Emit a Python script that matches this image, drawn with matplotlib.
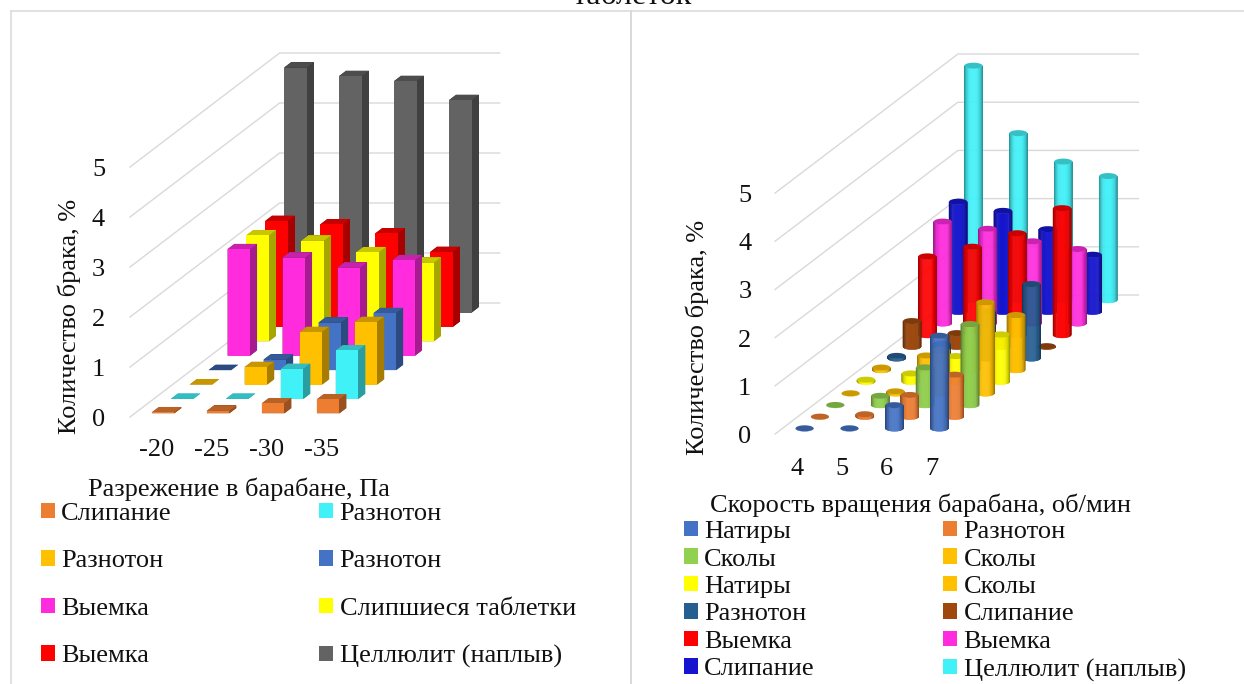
import numpy as np
import matplotlib
matplotlib.use("Agg")
import matplotlib.pyplot as plt
from matplotlib.colors import to_rgb
from matplotlib.lines import Line2D
from matplotlib.patches import Patch
from mpl_toolkits.mplot3d.art3d import Poly3DCollection

plt.rcParams['font.family'] = ['Liberation Serif', 'DejaVu Serif']

W, H = 1244, 684
GRID = "#d9d9d9"
TEXT = "#111111"
FONT = 19

# left chart: drum vacuum
vac_ticks = ["-20", "-25", "-30", "-35"]
vac_names = ["Слипание", "Разнотон", "Разнотон", "Разнотон",
             "Выемка", "Слипшиеся таблетки", "Выемка", "Целлюлит (наплыв)"]
vac_colors = ["#ed7d31", "#41f1f8", "#ffc000", "#4472c4",
              "#ff2bdd", "#ffff00", "#ff0000", "#636363"]
vac_stick = [0.02, 0.05, 0.20, 0.28]
vac_tone1 = [0.0, 0.0, 0.60, 0.97]
vac_tone2 = [0.0, 0.35, 1.05, 1.25]
vac_tone3 = [0.0, 0.21, 0.95, 1.14]
vac_dent1 = [2.13, 1.96, 1.76, 1.91]
vac_glued = [2.12, 2.01, 1.78, 1.57]
vac_dent2 = [2.12, 2.05, 1.87, 1.50]
vac_cell = [4.90, 4.73, 4.63, 4.25]
vac_values = [vac_stick, vac_tone1, vac_tone2, vac_tone3,
              vac_dent1, vac_glued, vac_dent2, vac_cell]

# right chart: drum rotation speed
rpm_ticks = ["4", "5", "6", "7"]
rpm_names = ["Натиры", "Разнотон", "Сколы", "Сколы", "Натиры", "Сколы",
             "Разнотон", "Слипание", "Выемка", "Выемка", "Слипание",
             "Целлюлит (наплыв)"]
rpm_colors = ["#4472c4", "#ed7d31", "#92d050", "#ffc000", "#ffff00", "#ffc000",
              "#255e91", "#9e480e", "#ff0000", "#ff2bdd", "#1515cf", "#41f1f8"]
rpm_scuff1 = [0.0, 0.0, 0.48, 1.92]
rpm_tone1 = [0.0, 0.05, 0.45, 0.87]
rpm_chip1 = [0.0, 0.19, 0.78, 1.68]
rpm_chip2 = [0.0, 0.04, 0.90, 1.89]
rpm_scuff2 = [0.04, 0.17, 0.53, 0.98]
rpm_chip3 = [0.05, 0.30, 0.70, 1.14]
rpm_tone2 = [0.05, 0.30, 0.97, 1.54]
rpm_stick1 = [0.53, 0.28, 0.20, 0.01]
rpm_dent1 = [1.63, 1.83, 2.11, 2.63]
rpm_dent2 = [2.11, 1.96, 1.70, 1.54]
rpm_stick2 = [2.28, 2.09, 1.71, 1.18]
rpm_cell = [4.86, 3.46, 2.87, 2.57]
rpm_values = [rpm_scuff1, rpm_tone1, rpm_chip1, rpm_chip2, rpm_scuff2, rpm_chip3,
              rpm_tone2, rpm_stick1, rpm_dent1, rpm_dent2, rpm_stick2, rpm_cell]


def oblique_axes(fig, x0, y0, col_px, ser_dx, ser_dy, unit_px):
    # 3D axes with a fixed cabinet projection, origin and steps given in pixels
    ax = fig.add_axes([0, 0, 1, 1], projection='3d', computed_zorder=False)
    ax.set_axis_off()
    ax.set_proj_type('ortho')
    ax.patch.set_visible(False)

    def get_proj():
        px = np.array([[col_px, ser_dx, 0, x0],
                       [0, ser_dy, unit_px, H - y0],
                       [-0.5, 1, -0.1, 0],
                       [0, 0, 0, 1.0]])
        inv = ax.transData.inverted().get_matrix()
        to_view = np.array([[inv[0, 0], 0, 0, inv[0, 2]],
                            [0, inv[1, 1], 0, inv[1, 2]],
                            [0, 0, 1, 0],
                            [0, 0, 0, 1.0]])
        return to_view @ px

    ax.get_proj = get_proj
    return ax


def walls(ax, u_wall, v_front, v_back, u_end):
    for k in range(6):
        ax.plot([u_wall, u_wall, u_end], [v_front, v_back, v_back], [k, k, k],
                color=GRID, lw=1.0, clip_on=False, zorder=1)


def tick_labels(fig, ticks, z_right, z_zero, z_step, x_first, x_step, x_y):
    for k in range(6):
        fig.text(z_right / W, 1 - (z_zero - k * z_step) / H, str(k), ha='right', va='center',
                 fontsize=FONT, color=TEXT)
    for i, t in enumerate(ticks):
        fig.text((x_first + i * x_step) / W, 1 - x_y / H, t, ha='center', va='center',
                 fontsize=FONT, color=TEXT)


def box_bars(ax, values, colors, width, depth):
    n = len(values)
    for s in range(n - 1, -1, -1):
        rgb = np.array(to_rgb(colors[s]))
        top = rgb * 0.78
        side = rgb * 0.65
        # face order of bar3d: bottom, top, front, back, left, right
        for i, v in enumerate(values[s]):
            faces = [side, top, rgb, side, side, side]
            col = ax.bar3d(i, s, 0, width, depth, v, color=faces, shade=False,
                           linewidth=0, zorder=10 + 2 * (n - s))
            col.set_clip_on(False)


def cylinder_bars(ax, values, colors, col_px, ser_dx, ser_dy, rx, ry):
    n = len(values)
    side_t = np.linspace(np.pi, 2 * np.pi, 29)
    full_t = np.linspace(0, 2 * np.pi, 41)

    # round footprint on screen, converted back to chart units
    def outline(t):
        dv = ry * np.sin(t) / ser_dy
        du = (rx * np.cos(t) - ser_dx * dv) / col_px
        return du, dv

    su, sv = outline(side_t)
    fu, fv = outline(full_t)
    for s in range(n - 1, -1, -1):
        rgb = np.array(to_rgb(colors[s]))
        for i, h in enumerate(values[s]):
            quads, shades = [], []
            for k in range(len(side_t) - 1):
                a, b = (i + su[k], s + sv[k]), (i + su[k + 1], s + sv[k + 1])
                quads.append([(*a, 0), (*b, 0), (*b, h), (*a, h)])
                c = abs(np.cos(side_t[k:k + 2].mean()))
                shades.append(rgb * (1 - 0.42 * c ** 3))
            body = Poly3DCollection(quads, facecolors=shades, edgecolors=shades,
                                    linewidths=0.3, zorder=10 + 2 * (n - s))
            cap = Poly3DCollection([list(zip(i + fu, s + fv, np.full_like(fu, h)))],
                                   facecolors=[rgb * 0.8], edgecolors='none',
                                   zorder=11 + 2 * (n - s))
            ax.add_collection3d(body)
            ax.add_collection3d(cap)
            body.set_clip_on(False)
            cap.set_clip_on(False)


def add_legend(fig, names, colors, x, y, colspace, rowspace):
    handles = [Patch(facecolor=c, edgecolor='none') for c in colors]
    # legend fills column by column, names are listed row by row
    order = list(range(0, len(names), 2)) + list(range(1, len(names), 2))
    fig.legend([handles[i] for i in order], [names[i] for i in order], ncols=2,
               loc='upper left', bbox_to_anchor=(x / W, 1 - y / H), frameon=False,
               fontsize=FONT, borderpad=0, borderaxespad=0, handlelength=0.52,
               handleheight=0.52, handletextpad=0.24, columnspacing=colspace,
               labelspacing=rowspace, labelcolor=TEXT)


fig = plt.figure(figsize=(W / 100, H / 100), dpi=100, facecolor='white')

# panel borders
for xs, ys in [((11, 11), (10.5, H)), ((630.5, 630.5), (10.5, H)), ((11, W), (10.5, 10.5))]:
    fig.add_artist(Line2D([x / W for x in xs], [1 - y / H for y in ys], color=GRID, lw=1.1))
fig.add_artist(Line2D([631.5 / W] * 2, [0, 1 - 10.5 / H], color=GRID, lw=1.1))

fig.text(632 / W, 1 - 3.5 / H, "таблеток", ha='center', va='baseline', fontsize=23, color=TEXT)

ax1 = oblique_axes(fig, 151.9, 413.3, 55, 18.9, 14.4, 50)
walls(ax1, -0.31, -0.26, 7.66, 3.69)
box_bars(ax1, vac_values, vac_colors, 0.41, 0.37)
tick_labels(fig, vac_ticks, 105, 420, 50, 156.7, 55, 450.3)

ax2 = oblique_axes(fig, 804.6, 428.3, 44.9, 15.35, 11.67, 48.2)
walls(ax2, -0.49, -0.49, 11.42, 3.53)
cylinder_bars(ax2, rpm_values, rpm_colors, 44.9, 15.35, 11.67, 9.0, 3.0)
tick_labels(fig, rpm_ticks, 751.4, 437, 48.2, 796.8, 44.9, 468.6)

fig.text(69.5 / W, 1 - 316 / H, "Количество брака, %", rotation=90, ha='center', va='center',
         fontsize=FONT, color=TEXT)
fig.text(697.6 / W, 1 - 337 / H, "Количество брака, %", rotation=90, ha='center', va='center',
         fontsize=FONT, color=TEXT)
fig.text(238.5 / W, 1 - 489 / H, "Разрежение в барабане, Па", ha='center', va='center',
         fontsize=FONT, color=TEXT)
fig.text(920.5 / W, 1 - 505 / H, "Скорость вращения барабана, об/мин", ha='center', va='center',
         fontsize=FONT, color=TEXT)

add_legend(fig, vac_names, vac_colors, 41, 503, 5.6, 0.96)
add_legend(fig, rpm_names, rpm_colors, 684, 521, 4.88, 0.206)

fig.savefig("out.png", dpi=100)
